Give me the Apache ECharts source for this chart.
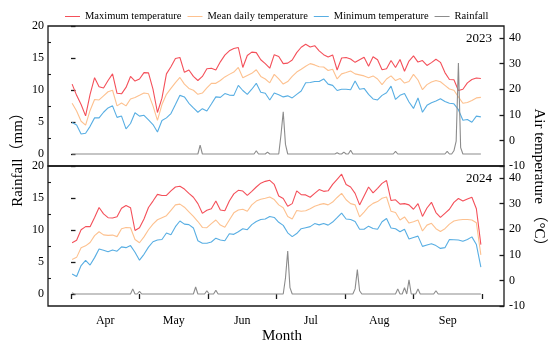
<!DOCTYPE html>
<html><head><meta charset="utf-8">
<script src="https://cdn.jsdelivr.net/npm/echarts@6/dist/echarts.min.js"></script>
<style>html,body{margin:0;padding:0;background:#fff}#c{width:550px;height:343px}</style>
</head><body><div id="c"></div>
<script>
// ---- categories / tick labels ----
const months = ['Apr','May','Jun','Jul','Aug','Sep'];
const monthTicks = [0,30.5,61,91.5,122,152.5,183];          // day offsets of month boundaries (from 1 Apr)
const monthCenters = [15.25,45.75,76.25,106.75,137.25,167.75];
const rainTicks = [0,5,10,15,20];
const rainMinorTicks = [2.5,7.5,12.5,17.5];
const tempTicks = [-10,0,10,20,30,40];
const seriesNames = ['Maximum temperature','Mean daily temperature','Minimum temperature','Rainfall'];
const years = ['2023','2024'];

// ---- temperature (°C), sampled every 2 days from 1 Apr ----
const max2023 = [22,17.6,14,9.6,18,24.5,21,20.5,23.4,26, 18.4,18.2,20.7,25,23.2,24,26.5,26.4,20,10.9,
 16.5,26,28.8,32,32.4,26.6,27.5,25,23.4,25, 28,28.2,27.5,30.7,33.3,35,35.9,36.3,28.5,33.2,
 34.5,34.3,31.5,30,28.2,33.5,32.8,30,30.2,31.4, 34.3,36.4,37.6,36.5,37,35,33.5,32.6,33.4,27.5,
 32.2,32.4,31.8,30.5,31.5,32.5,29,32.7,31.5,27.6, 28,31.2,28.5,31.6,27,31,33,30.6,31.2,29.3,
 30.4,31.7,30.5,26.5,23.8,23.7,19.5,20,22.5,23.8, 24.4,24.2];
const mean2023 = [14.5,11.5,7.5,6,11.7,16,15.8,17.4,19,19.6, 13.5,14.6,13.5,16.2,16.8,17.6,18.5,18.2,13.5,7.8,
 14,18,20.3,22.6,24.6,22,20.3,19.6,18,18.5, 20.5,22.3,22.3,23.4,24.8,25.8,26.7,28.5,24.5,25.4,
 26.2,27.6,25,24,22.5,25.8,24,22,23,25, 26.7,27.8,29,30,29.5,28.8,28.7,27.3,27.8,24,
 26,26.5,27.1,26,25.6,25.2,24.5,25.2,24,21.8, 24,25.2,23.4,24.2,22.4,23,25.8,23.6,19.8,21.8,
 22.8,23.4,22.9,21.5,20.1,19.6,17,14.5,14.8,15.6, 16.6,16.8];
const min2023 = [7,6,2.5,2.8,5.5,8.8,8.8,11,12.7,13.5, 9,9.5,4.5,6.6,10.8,9.5,9.8,8,6.2,3.3,
 7.8,8.8,10.5,14,17.6,17,14.5,12.7,11,12.4, 11.5,14.2,17,16.8,18.3,17.7,17.6,21.5,19.5,18,
 20,22.3,18.8,18.4,15.8,18.5,17.8,17,17.4,16.6, 18,19.3,22.5,22.6,23,23,24,22,21.5,19.5,
 20,20,19.8,23.2,20,20.3,18,16.2,15.8,17.6, 18.6,21.2,16,17.6,18.3,15,12.5,16.6,11,13.7,
 14.7,15.4,16.3,15.2,14.5,14.3,12,7.9,8.2,7.1, 9.5,9.2];
const max2024 = [14.7,15.7,19.8,21,21,24.6,28.5,26,24.5,24.4, 24.9,28.2,29.3,28.4,19.5,20.6,24,28.5,31,33.6,
 33.2,33.2,35,36.5,36.8,35.7,34,32.5,30,26.2, 27.4,28,31,27.5,27.2,31,33.8,35.2,34.9,33.2,
 34.8,36.5,38,38.7,39.1,37.5,33,32,29,30, 35,33.5,33.4,32.5,34,35.5,34.8,35,37.5,39.5,
 41.5,37.5,36.5,34,29.5,33,36.5,34.2,36,37.9, 39,31.2,31.5,29.8,30,29.5,27.8,30,25,28.3,
 30.5,26.5,24.6,26.2,27.8,30.5,32,31,31.8,32.5, 28,14];
const mean2024 = [8.2,9,12.8,13.5,14.8,17.5,19,17.8,17.6,17.7, 17.1,20.2,20.7,20.6,16,14.7,17,19.8,22,23.7,
 24.5,25.3,27.4,29.5,29.8,28.6,26.8,25,23,20.7, 20.6,22.2,23.6,21.6,20.8,23.6,26.4,27.5,27.8,27,
 29.5,31,31.7,32.1,32.6,31.6,29.5,28.4,25,24, 27.3,27,27.2,28,29,29.6,30,29.5,30.6,32.4,
 34,31.5,30,29.5,24.8,26.7,28.8,30.1,30.8,32.1, 32.6,27,26.5,23.6,24.8,22.4,22.9,23.6,19.3,21.6,
 22.3,20.2,19.1,20.2,22,23.2,23.6,23.8,23.8,23.6, 22.5,10];
const min2024 = [2.5,1.5,5.8,7.8,6,8.9,12.3,11.8,11.2,11.9, 11.4,13.1,12.8,13.6,11,7.9,10.2,13,15.1,15.8,
 16,18.5,17.8,21,23.2,22,21.8,20.5,15.5,14.5, 14.5,15,16.5,15.8,15.5,18.2,18,19,20.2,19.8,
 21.8,23,23.8,24,25,24.6,22.7,21.5,18.6,17.1, 18.3,20.2,20.6,21,22.2,21.7,22.2,21.6,22.8,24.5,
 26.3,24,23.8,23,20,20,21.2,20.3,20,22.9, 24.2,20.5,20.2,19,20,16.2,16.8,17.3,13.3,13.8,
 14.3,13.6,12.5,12.8,16,15.9,15.8,15.3,16,17, 14,5.2];

// ---- daily rainfall (mm), 1 Apr - 30 Sep ----
const rain2023 = [
 0,0,0,0,0,0,0,0,0,0, 0,0,0,0,0,0,0,0,0,0, 0,0,0,0,0,0,0,0,0,0, 0,0,0,0,0,0,0,0,0,0,
 0,0,0,0,0,0,0,0,0,0, 0,0,0,0,0,0,0,1.4,0,0, 0,0,0,0,0,0,0,0,0,0, 0,0,0,0,0,0,0,0,0,0,
 0,0,0.5,0,0,0,0,0.3,0,0, 0,0,0,3,6.6,1.5,0,0,0,0, 0,0,0,0,0,0,0,0,0,0, 0,0,0,0,0,0,0,0,0.2,0,
 0,0.3,0,0,0.6,0,0,0,0,0, 0,0,0,0,0,0,0,0,0,0, 0,0,0,0,0.4,0,0,0,0,0, 0,0,0,0,0,0,0,0,0,0,
 0,0,0,0,0,0,0,0.4,0,0, 0.5,2,14.2,1,0,0,0,0,0,0, 0,0,0];
const rain2024 = [
 0.2,0,0,0,0,0,0,0,0,0, 0,0,0,0,0,0,0,0,0,0, 0,0,0,0,0,0,0,0.8,0,0, 0.4,0,0,0,0,0,0,0,0,0,
 0,0,0,0,0,0,0,0,0,0, 0,0,0,0,0,1.1,0,0,0,0, 0.5,0,0,0,0.6,0,0,0,0,0, 0,0,0,0,0,0,0,0,0,0,
 0,0,0,0,0,0,0,0,0,0, 0,0,0,0,0,2.5,6.7,1,0,0, 0,0,0,0,0,0,0,0,0,0, 0,0,0,0,0,0,0,0,0,0,
 0,0,0,0,0,0,0.8,3.8,0.5,0, 0,0,0,0,0,0,0,0,0,0, 0,0,0,0,0,0.8,0,0,1,0, 2.2,0,0,0,0.8,0,0,0,0,0,
 0,0,0.5,0,0,0,0,0,0,0, 0,0,0,0,0,0,0,0,0,0, 0,0,0];

// ---- build ----
const FONT = '"Liberation Serif","Times New Roman",serif';
const C = {max:'#f4505a', mean:'#fdc18f', min:'#58aee3', rain:'#8c8c8c'};
const tempX = max2023.map((_, k) => 2 * k + 0.5);
const rainX = rain2023.map((_, i) => i + 0.5);
const pair = (xs, ys) => xs.map((x, i) => [x, ys[i]]);
const axisColor = '#1a1a1a';
const lbl = (extra) => Object.assign({fontSize:12, color:'#000', fontFamily:FONT}, extra);

const grids = [0,1].map(g => ({left:48, top:26 + g*140, width:456, height:140, show:true,
  borderColor:axisColor, borderWidth:1.3, backgroundColor:'transparent', containLabel:false}));

const xAxes = [0,1].map(g => ({
  gridIndex:g, type:'value', min:-10.24, max:192.8, splitLine:{show:false},
  axisLine:{show:false},
  axisTick: g === 1 ? {show:true, inside:false, length:5, customValues:monthTicks, lineStyle:{color:axisColor, width:1.3}} : {show:false},
  axisLabel: g === 1 ? lbl({customValues:monthCenters, margin:9,
      formatter: v => months[Math.round((v - monthCenters[0]) / 30.5)]}) : {show:false}
}));

const yAxes = [];
[0,1].forEach(g => {
  yAxes.push({gridIndex:g, type:'value', position:'left', min:-1.875, max:20, splitLine:{show:false},
    axisLine:{show:false},
    axisTick:{show:true, inside:true, length:4.5, customValues:rainTicks, lineStyle:{color:axisColor, width:1.3}},
    axisLabel:lbl({customValues:rainTicks, margin:4})});
  yAxes.push({gridIndex:g, type:'value', position:'right', min:-10, max:44.7, splitLine:{show:false},
    axisLine:{show:false},
    axisTick:{show:true, inside:true, length:4.5, customValues:tempTicks, lineStyle:{color:axisColor, width:1.3}},
    axisLabel:lbl({customValues:tempTicks, margin:5})});
});
[0,1].forEach(g => {
  yAxes.push({gridIndex:g, type:'value', position:'left', min:-1.875, max:20, splitLine:{show:false},
    axisLine:{show:false},
    axisTick:{show:true, inside:true, length:3, customValues:rainMinorTicks, lineStyle:{color:axisColor, width:1.1}},
    axisLabel:{show:false}});
});

const mk = (name, color, g, yIdx, xs, ys) => ({
  name, type:'line', xAxisIndex:g, yAxisIndex:yIdx, data:pair(xs, ys),
  symbol:'none', showSymbol:false, silent:true, animation:false,
  lineStyle:{width:1.1, color}, itemStyle:{color}
});

const series = [
  mk(seriesNames[0], C.max, 0, 1, tempX, max2023),
  mk(seriesNames[1], C.mean, 0, 1, tempX, mean2023),
  mk(seriesNames[2], C.min, 0, 1, tempX, min2023),
  mk(seriesNames[3], C.rain, 0, 0, rainX, rain2023),
  mk(seriesNames[0], C.max, 1, 3, tempX, max2024),
  mk(seriesNames[1], C.mean, 1, 3, tempX, mean2024),
  mk(seriesNames[2], C.min, 1, 3, tempX, min2024),
  mk(seriesNames[3], C.rain, 1, 2, rainX, rain2024)
];

const chart = echarts.init(document.getElementById('c'), null, {renderer:'canvas'});
chart.setOption({
  animation:false,
  backgroundColor:'#fff',
  textStyle:{fontFamily:FONT},
  legend:{data:seriesNames, left:65, top:11, padding:0, icon:'rect', itemWidth:15, itemHeight:1, itemGap:6,
    textStyle:{fontSize:10.5, fontFamily:FONT, color:'#000', padding:[0,0,0,0]}},
  grid:grids, xAxis:xAxes, yAxis:yAxes, series,
  graphic:[
    {type:'text', x:492, y:39, style:{text:years[0], fontSize:13, fontFamily:FONT, fill:'#000', align:'right', verticalAlign:'middle'}},
    {type:'text', x:492, y:179, style:{text:years[1], fontSize:13, fontFamily:FONT, fill:'#000', align:'right', verticalAlign:'middle'}},
    {type:'text', x:18, y:156, rotation:Math.PI/2, style:{text:'Rainfall（mm）', fontSize:15, fontFamily:'"Liberation Serif","Noto Sans CJK SC",serif', fill:'#000', align:'center', verticalAlign:'middle'}},
    {type:'text', x:539, y:181, rotation:-Math.PI/2, style:{text:'Air temperature （°C）', fontSize:15, fontFamily:'"Liberation Serif","Noto Sans CJK SC",serif', fill:'#000', align:'center', verticalAlign:'middle'}},
    {type:'text', x:282, y:336, style:{text:'Month', fontSize:15, fontFamily:FONT, fill:'#000', align:'center', verticalAlign:'middle'}}
  ]
});
</script></body></html>
